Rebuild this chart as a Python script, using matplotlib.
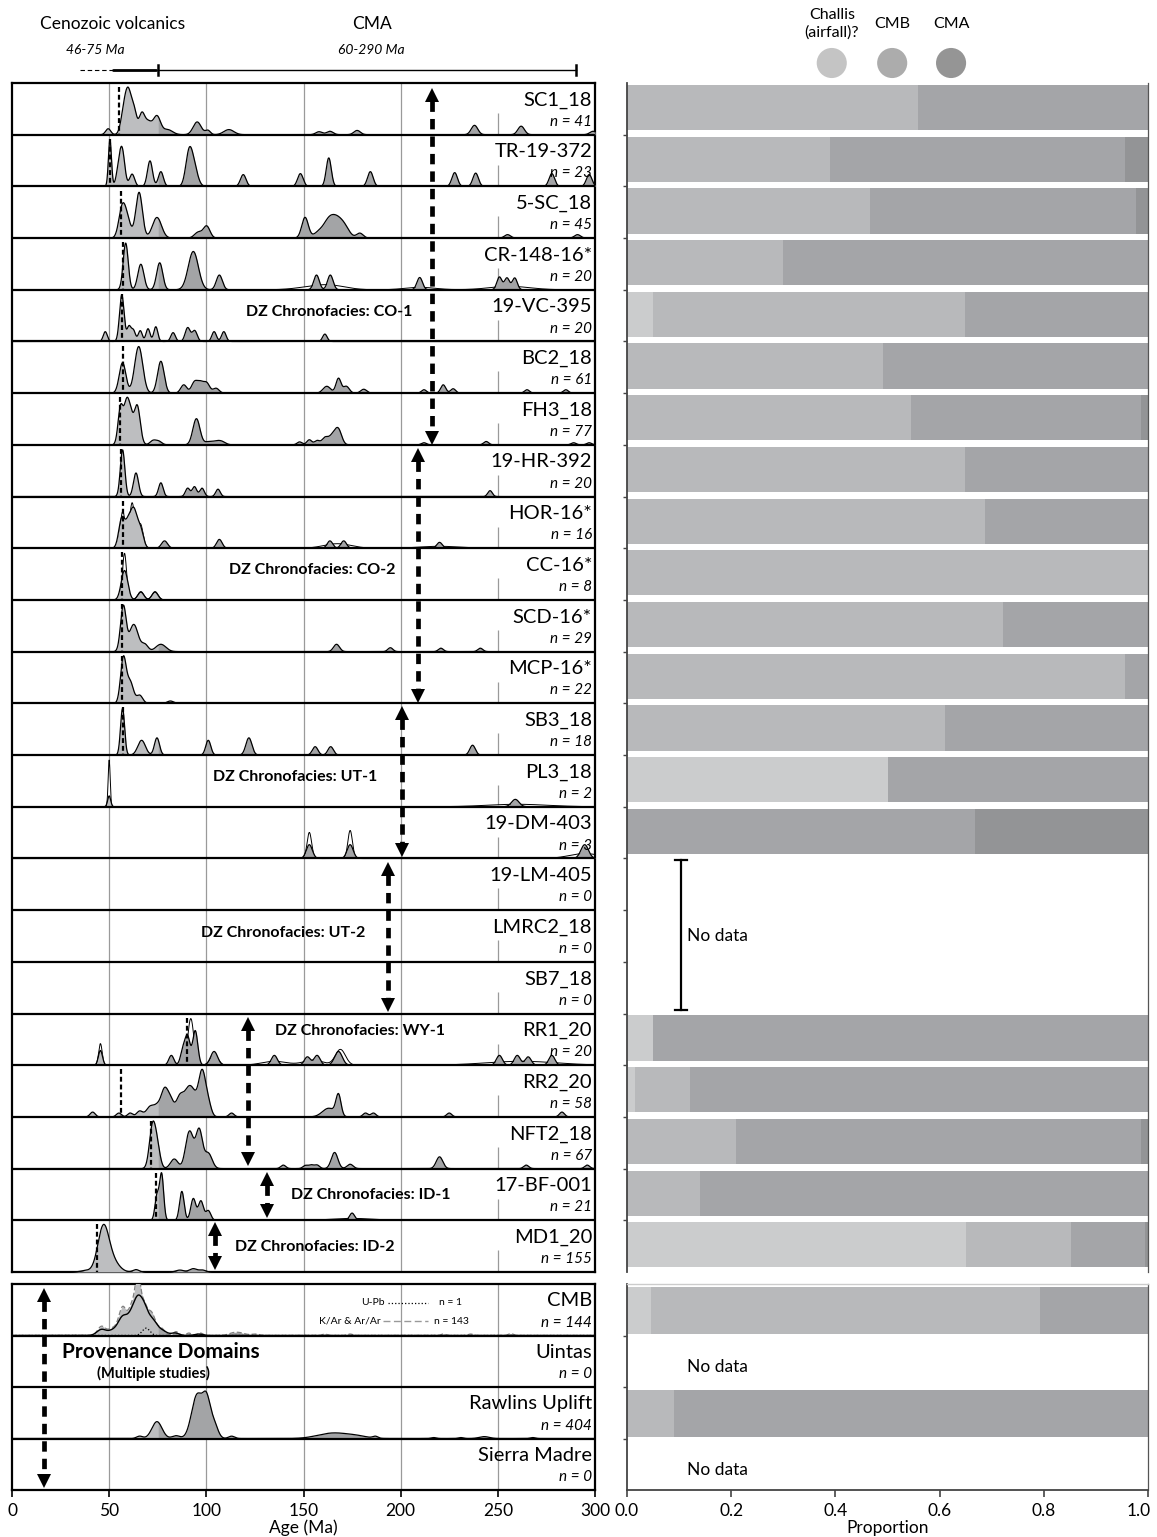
import numpy as np
import matplotlib
matplotlib.use("Agg")
import matplotlib.pyplot as plt
import matplotlib.transforms as mtransforms

plt.rcParams['font.family'] = ['Lato', 'DejaVu Sans']

# ---------------- data ----------------
sample_names = ["SC1_18", "TR-19-372", "5-SC_18", "CR-148-16*", "19-VC-395", "BC2_18",
                "FH3_18", "19-HR-392", "HOR-16*", "CC-16*", "SCD-16*", "MCP-16*", "SB3_18",
                "PL3_18", "19-DM-403", "19-LM-405", "LMRC2_18", "SB7_18", "RR1_20",
                "RR2_20", "NFT2_18", "17-BF-001", "MD1_20"]
sample_n = [41, 23, 45, 20, 20, 61, 77, 20, 16, 8, 29, 22, 18, 2, 3, 0, 0, 0, 20, 58, 67, 21, 155]

# density peaks: age (Ma), relative height, width (Ma)
peak_ages = [
    [49.5, 57.5, 60, 63, 66.7, 70, 74.6, 80, 95.3, 100.8, 111.6, 158, 163.6, 177.6, 238, 262, 299],
    [50.4, 55, 56.8, 61.8, 71, 76.6, 91, 93.5, 119, 148.4, 163, 184.4, 227.8, 238.6, 277.8, 297],
    [56.5, 59, 65.4, 74.6, 95.9, 100.2, 150.8, 158, 163, 167, 171, 179, 255, 291],
    [58.5, 66.3, 76, 93.3, 106.7, 156.7, 163.8, 209.8, 250.8, 254.7, 258.7],
    [48, 56.5, 60.2, 62.5, 66, 70, 74, 82.9, 90.4, 94, 104, 109, 161],
    [56.9, 65.2, 76.6, 88.4, 93.9, 97, 100.2, 105, 162, 168, 172, 181, 212, 221.9, 227, 265, 285],
    [55.9, 58.9, 61, 64.4, 72.6, 75.6, 94.9, 101, 105, 108, 148, 153, 157, 161, 165, 168, 212, 244, 289, 297],
    [56.9, 63.8, 76.6, 90.4, 93.9, 97.8, 106, 246],
    [56.5, 60, 62.8, 66, 78.5, 106.7, 163.6, 170.7, 220],
    [57.9, 66.3, 73.6],
    [57.3, 61.8, 64, 68.3, 76.6, 167, 194.7, 220.7, 241],
    [57.3, 60.8, 65.7, 81.5],
    [56.9, 66.7, 74.6, 101, 121.9, 156, 164, 237],
    [50, 259],
    [153, 174, 294.7],
    [], [], [],
    [45.5, 82, 88, 90.4, 94.3, 104, 135, 152, 157, 168, 250.8, 260, 265.6, 277.8],
    [41.5, 55, 60.8, 65.7, 71, 75, 78.5, 81.5, 86.4, 90.4, 93.3, 97.8, 101, 113, 163, 168, 181.9, 186, 225, 283],
    [72.2, 74.6, 83.5, 90.4, 92.3, 96.3, 101, 139.6, 151, 154, 157, 166, 174, 220, 264.6, 296],
    [74.6, 77, 87.4, 93.3, 97.2, 101, 175],
    [38, 47, 52, 63.8, 86.4, 93.3, 98],
]
peak_heights = [
    [0.14, 0.45, 0.95, 0.45, 0.45, 0.3, 0.42, 0.12, 0.3, 0.1, 0.12, 0.07, 0.08, 0.1, 0.22, 0.2, 0.08],
    [0.95, 0.35, 0.65, 0.25, 0.52, 0.3, 0.6, 0.4, 0.24, 0.26, 0.58, 0.3, 0.28, 0.27, 0.26, 0.24],
    [0.5, 0.4, 0.93, 0.42, 0.12, 0.24, 0.42, 0.12, 0.32, 0.3, 0.22, 0.1, 0.07, 0.07],
    [0.95, 0.52, 0.55, 0.78, 0.3, 0.3, 0.3, 0.25, 0.26, 0.24, 0.24],
    [0.2, 0.95, 0.3, 0.22, 0.22, 0.26, 0.3, 0.18, 0.28, 0.22, 0.2, 0.2, 0.15],
    [0.62, 0.95, 0.65, 0.17, 0.22, 0.2, 0.2, 0.1, 0.14, 0.3, 0.14, 0.08, 0.07, 0.17, 0.09, 0.07, 0.07],
    [0.9, 0.88, 0.6, 0.93, 0.1, 0.08, 0.62, 0.07, 0.07, 0.07, 0.07, 0.12, 0.1, 0.16, 0.22, 0.33, 0.05, 0.08, 0.05, 0.05],
    [0.95, 0.48, 0.28, 0.17, 0.2, 0.17, 0.15, 0.12],
    [0.6, 0.5, 0.68, 0.4, 0.15, 0.18, 0.15, 0.15, 0.12],
    [0.6, 0.16, 0.16],
    [0.93, 0.38, 0.28, 0.15, 0.15, 0.15, 0.08, 0.07, 0.07],
    [0.95, 0.45, 0.17, 0.05],
    [0.95, 0.3, 0.35, 0.3, 0.35, 0.17, 0.17, 0.2],
    [0.22, 0.15],
    [0.28, 0.28, 0.28],
    [], [], [],
    [0.3, 0.2, 0.3, 0.55, 0.7, 0.28, 0.2, 0.17, 0.2, 0.28, 0.2, 0.2, 0.17, 0.2],
    [0.1, 0.08, 0.08, 0.12, 0.2, 0.22, 0.5, 0.33, 0.42, 0.44, 0.4, 0.93, 0.25, 0.08, 0.18, 0.43, 0.08, 0.08, 0.08, 0.1],
    [0.9, 0.5, 0.22, 0.5, 0.5, 0.88, 0.35, 0.08, 0.07, 0.08, 0.08, 0.37, 0.1, 0.27, 0.08, 0.08],
    [0.5, 0.95, 0.6, 0.45, 0.4, 0.2, 0.15],
    [0.03, 0.93, 0.2, 0.05, 0.04, 0.07, 0.04],
]
peak_widths = [
    [1.0, 1.2, 1.3, 1.0, 1.1, 1.5, 1.4, 2.0, 1.6, 1.0, 2.0, 1.3, 1.3, 1.3, 1.3, 1.3, 1.3],
    [0.6, 1.0, 1.0, 1.0, 1.0, 1.0, 1.3, 1.5, 1.1, 1.1, 1.0, 1.1, 1.1, 1.1, 1.1, 1.1],
    [1.3, 1.5, 1.3, 1.8, 1.5, 1.3, 1.3, 2.0, 2.0, 2.0, 2.0, 1.3, 1.2, 1.2],
    [1.0, 1.2, 1.2, 2.0, 1.2, 1.1, 1.1, 1.1, 1.0, 1.0, 1.0],
    [0.8, 0.9, 0.8, 0.8, 0.8, 0.8, 0.8, 0.9, 1.0, 1.0, 0.9, 0.9, 0.9],
    [1.3, 1.6, 1.3, 1.2, 1.2, 1.2, 1.2, 1.2, 1.5, 1.0, 1.2, 1.2, 1.0, 1.0, 1.0, 1.0, 1.0],
    [1.0, 1.0, 1.0, 1.2, 1.2, 1.2, 1.4, 1.5, 1.5, 1.5, 1.0, 1.0, 1.0, 1.2, 1.5, 1.3, 1.0, 1.0, 1.0, 1.0],
    [0.9, 1.0, 0.9, 0.9, 0.9, 0.9, 0.9, 0.9],
    [1.2, 1.2, 1.2, 1.2, 1.2, 1.1, 1.1, 1.1, 1.1],
    [1.3, 1.2, 1.2],
    [1.1, 1.4, 1.4, 1.3, 2.0, 1.2, 1.0, 1.0, 1.0],
    [1.1, 1.3, 1.2, 1.2],
    [0.8, 1.5, 1.0, 1.0, 1.2, 1.1, 1.1, 1.1],
    [0.6, 1.5],
    [1.2, 1.2, 1.5],
    [], [], [],
    [0.8, 1.0, 1.0, 1.0, 1.0, 1.4, 1.2, 1.2, 1.2, 1.5, 1.2, 1.2, 1.2, 1.2],
    [1.0, 1.0, 1.0, 1.2, 1.5, 1.5, 1.3, 1.3, 1.5, 1.5, 1.5, 1.4, 1.2, 1.0, 2.5, 1.0, 1.0, 1.0, 1.0, 1.0],
    [1.2, 1.2, 1.5, 1.3, 1.3, 1.3, 1.5, 1.0, 1.0, 1.0, 1.0, 1.3, 1.2, 1.3, 1.0, 1.0],
    [0.8, 0.8, 0.9, 1.0, 1.0, 1.0, 1.0],
    [2.0, 2.2, 2.5, 1.2, 1.5, 1.5, 1.2],
]
# second (outline) curves where they differ visibly from the filled one
outline_ages = [[], [], [], [156, 165, 210, 256], [], [], [], [],
                [57, 61.8, 66, 165, 170, 220], [57.9, 66.3, 73.6], [], [], [],
                [50, 260], [153, 174, 294.7], [], [], [],
                [45.5, 92, 104, 135, 155, 169, 262], [], [], [175], []]
outline_heights = [[], [], [], [0.06, 0.06, 0.05, 0.07], [], [], [], [],
                   [0.75, 0.92, 0.5, 0.05, 0.05, 0.04], [0.95, 0.17, 0.17], [], [], [],
                   [0.95, 0.05], [0.53, 0.57, 0.1], [], [], [],
                   [0.44, 0.95, 0.2, 0.08, 0.1, 0.32, 0.08], [], [], [0.04], []]
outline_widths = [[], [], [], [7, 6, 6, 8], [], [], [], [],
                  [1.0, 1.0, 1.1, 5, 5, 8], [0.8, 1.2, 1.2], [], [], [],
                  [0.4, 12], [0.9, 0.9, 6], [], [], [],
                  [0.7, 1.2, 1.6, 5, 4, 2.0, 14], [], [], [8], []]
# youngest-population (dashed) markers, Ma
mda_ages = [55.3, 50.4, 56.1, 57.3, 56.5, 56.9, 55.5, 56.1, 56.9, 56.5, 56.5, 56.5, 56.9,
            None, None, None, None, None, 90.0, 56.0, 71.3, 74.2, 43.7]

# chronofacies: label, arrow age, arrow top/bottom (row units), label age, label row, ha
facies_labels = ["DZ Chronofacies: CO-1", "DZ Chronofacies: CO-2", "DZ Chronofacies: UT-1",
                 "DZ Chronofacies: UT-2", "DZ Chronofacies: WY-1", "DZ Chronofacies: ID-1",
                 "DZ Chronofacies: ID-2"]
facies_arrow_age = [216, 209, 200.7, 193.5, 121.5, 131, 104.5]
facies_arrow_top = [0.1, 7.06, 12.05, 15.07, 18.07, 21.06, 22.03]
facies_arrow_bot = [7.0, 12.0, 14.97, 17.97, 20.95, 21.95, 22.96]
facies_text_age = [163, 154.4, 145.6, 139.5, 135.4, 143.6, 114.8]
facies_text_row = [4.43, 9.42, 13.42, 16.44, 18.34, 21.51, 22.51]
facies_text_ha = ["center", "center", "center", "center", "left", "left", "left"]

# provenance domains
prov_names = ["CMB", "Uintas", "Rawlins Uplift", "Sierra Madre"]
prov_n = [144, 0, 404, 0]
cmb_ages = [46, 52, 57, 62, 64.8, 67.7, 71.7, 76.6, 84.4, 91, 97, 114, 118, 125, 161, 174, 222, 236, 256.7]
cmb_heights = [0.18, 0.15, 0.55, 0.62, 0.95, 0.6, 0.45, 0.15, 0.08, 0.05, 0.05, 0.05, 0.04, 0.03, 0.03, 0.03, 0.03, 0.03, 0.04]
cmb_widths = [1.5, 2, 1.5, 1.5, 1.0, 1.3, 1.5, 1.5, 1.0, 1.0, 1.0, 2, 2, 1.5, 1, 1, 1, 1, 1]
cmb_kar_ages = [46, 52, 57, 62, 65, 68, 72, 77, 84, 96]
cmb_kar_heights = [0.12, 0.1, 0.35, 0.42, 0.5, 0.45, 0.3, 0.1, 0.05, 0.03]
cmb_kar_widths = [1.8, 2, 1.8, 1.8, 1.5, 1.5, 1.8, 2, 1.5, 1.5]
cmb_upb_ages = [69]
cmb_upb_heights = [0.15]
cmb_upb_widths = [1.5]
rawlins_ages = [65.7, 74.6, 84.4, 95.3, 100.2, 104, 113, 160, 165, 170, 178, 187, 217, 231, 243, 268]
rawlins_heights = [0.05, 0.36, 0.06, 0.93, 0.72, 0.3, 0.05, 0.04, 0.05, 0.05, 0.04, 0.04, 0.02, 0.02, 0.04, 0.02]
rawlins_widths = [1.2, 2.0, 1.5, 2.2, 1.5, 1.5, 1.2, 5, 5, 5, 4, 1, 1, 1, 2, 1]

# source proportions (Challis, CMB, CMA, other)
prop_challis = [0, 0, 0, 0, 0.05, 0, 0, 0, 0, 0, 0, 0, 0, 0.5, 0, 0, 0, 0, 0.049, 0.016, 0, 0, 0.651]
prop_cmb = [0.559, 0.39, 0.466, 0.30, 0.599, 0.491, 0.545, 0.649, 0.687, 1.0, 0.722, 0.956, 0.611,
            0, 0, 0, 0, 0, 0, 0.104, 0.209, 0.141, 0.201]
prop_cma = [0.441, 0.566, 0.511, 0.70, 0.351, 0.509, 0.442, 0.351, 0.313, 0, 0.278, 0.044, 0.389,
            0.5, 0.667, 0, 0, 0, 0.951, 0.88, 0.777, 0.859, 0.142]
prop_other = [0, 0.044, 0.023, 0, 0, 0, 0.013, 0, 0, 0, 0, 0, 0, 0, 0.333, 0, 0, 0, 0, 0, 0.014, 0, 0.006]
prov_challis = [0.047, 0, 0, 0]
prov_cmb = [0.745, 0, 0.09, 0]
prov_cma = [0.208, 0, 0.91, 0]
prov_other = [0, 0, 0, 0]

legend_labels = ["Challis\n(airfall)?", "CMB", "CMA"]

# ---------------- styling ----------------
LIGHT = '#bdbec0'
DARK = '#a3a4a6'
C_CHALLIS, C_CMB, C_CMA, C_OTHER = '#cbcccd', '#b8b9bb', '#a4a5a8', '#939496'
GRID = '#9a9a9a'
BW = 1.3  # kernel width factor for display

W, H = 1157, 1537
fig = plt.figure(figsize=(W / 100, H / 100), dpi=100)


def add_ax(l, t, r, b):
    return fig.add_axes([l / W, 1 - b / H, (r - l) / W, (b - t) / H])


xs = np.linspace(0, 300, 3001)


def density(ages, heights, widths):
    y = np.zeros_like(xs)
    for a, h, w in zip(ages, heights, widths):
        y += h * np.exp(-0.5 * ((xs - a) / (w * BW)) ** 2)
    return y


def draw_curve(ax, i, ages, hts, wds, o_ages=(), o_hts=(), o_wds=()):
    if len(ages) == 0:
        return
    f = density(ages, hts, wds)
    o = density(o_ages, o_hts, o_wds) if len(o_ages) else None
    m = max(f.max(), o.max() if o is not None else 0)
    s = 0.95 * min(1.0, 0.97 / m)
    base = i + 1
    if o is not None:
        ax.fill_between(xs, base, base - o * s, color='white', lw=0, zorder=2)
        ax.plot(xs, base - o * s, color='black', lw=0.7, zorder=2.2)
    ax.fill_between(xs, base, base - f * s, where=xs <= 75.05, color=LIGHT, lw=0, zorder=3)
    ax.fill_between(xs, base, base - f * s, where=xs >= 74.95, color=DARK, lw=0, zorder=3)
    ax.plot(xs, base - f * s, color='black', lw=0.9, zorder=4)


def darrow(ax, xv, y0, y1, rowpx):
    hs = 13.0 / rowpx
    ax.plot([xv, xv], [y0 + hs, y1 - hs], color='black', lw=3.4, dashes=(2.2, 1.5),
            zorder=8, solid_capstyle='butt')
    ax.plot([xv], [y0 + hs * 0.55], marker='^', ms=10, color='black', zorder=8, mew=0)
    ax.plot([xv], [y1 - hs * 0.55], marker='v', ms=10, color='black', zorder=8, mew=0)


# ---------------- left: samples ----------------
nrow = len(sample_names)
axL = add_ax(12, 83, 595, 1272)
axL.set_xlim(0, 300)
axL.set_ylim(nrow, 0)
axL.set_xticks([])
axL.set_yticks([])
for sp in axL.spines.values():
    sp.set_linewidth(1.6)
for g in [50, 100, 150, 200]:
    axL.axvline(g, color=GRID, lw=0.9, zorder=1)
for i in range(nrow):
    axL.vlines(250, i + 0.58, i + 1, color=GRID, lw=0.9, zorder=1)
    if i > 0:
        axL.axhline(i, color='black', lw=1.6, zorder=9)
    draw_curve(axL, i, peak_ages[i], peak_heights[i], peak_widths[i],
               outline_ages[i], outline_heights[i], outline_widths[i])
    if mda_ages[i] is not None:
        axL.vlines(mda_ages[i], i + 0.08, i + 1, colors='black', lw=1.6,
                   linestyles=(0, (2.2, 1.3)), zorder=6)
    axL.text(298.5, i + 0.33, sample_names[i], ha='right', va='center', fontsize=14.5, zorder=10)
    axL.text(298.5, i + 0.75, "n = %d" % sample_n[i], ha='right', va='center', fontsize=11,
             style='italic', zorder=10)

rowpx = (1272 - 83) / nrow
for k in range(len(facies_labels)):
    darrow(axL, facies_arrow_age[k], facies_arrow_top[k], facies_arrow_bot[k], rowpx)
    axL.text(facies_text_age[k], facies_text_row[k], facies_labels[k], ha=facies_text_ha[k],
             va='center', fontsize=11.5, fontweight='bold', zorder=10)

# ---------------- left: provenance ----------------
nprov = len(prov_names)
axP = add_ax(12, 1284, 595, 1490)
axP.set_xlim(0, 300)
axP.set_ylim(nprov, 0)
axP.set_yticks([])
for sp in axP.spines.values():
    sp.set_linewidth(1.6)
for g in [50, 100, 150, 200, 250]:
    axP.axvline(g, color=GRID, lw=0.9, zorder=1)
for i in range(1, nprov):
    axP.axhline(i, color='black', lw=1.6, zorder=9)
for i in range(nprov):
    axP.text(298.5, i + 0.33, prov_names[i], ha='right', va='center', fontsize=14.5, zorder=10)
    axP.text(298.5, i + 0.75, "n = %d" % prov_n[i], ha='right', va='center', fontsize=11,
             style='italic', zorder=10)

# CMB row
f = density(cmb_ages, cmb_heights, cmb_widths)
s = 0.95
axP.fill_between(xs, 1, 1 - f * s, where=xs <= 75.05, color=LIGHT, lw=0, zorder=3)
axP.fill_between(xs, 1, 1 - f * s, where=xs >= 74.95, color=DARK, lw=0, zorder=3)
axP.plot(xs, 1 - f * s, color='#808080', lw=0.9, dashes=(4, 2), zorder=4)
k_ = density(cmb_kar_ages, cmb_kar_heights, cmb_kar_widths)
axP.plot(xs, 1 - k_ * s, color='black', lw=1.0, zorder=5)
u_ = density(cmb_upb_ages, cmb_upb_heights, cmb_upb_widths)
axP.plot(xs, 1 - u_ * s, color='black', lw=0.9, ls=':', zorder=5)
axP.text(192, 0.36, "U-Pb", ha='right', va='center', fontsize=7.5, zorder=10)
axP.plot([193.5, 214], [0.36, 0.36], color='black', lw=0.9, ls=':', zorder=10)
axP.text(219.5, 0.36, "n = 1", ha='left', va='center', fontsize=7.5, zorder=10)
axP.text(189.5, 0.72, "K/Ar & Ar/Ar", ha='right', va='center', fontsize=7.5, zorder=10)
axP.plot([191, 214], [0.72, 0.72], color='#999999', lw=1.0, dashes=(5, 2.5), zorder=10)
axP.text(217, 0.72, "n = 143", ha='left', va='center', fontsize=7.5, zorder=10)

# Rawlins row
draw_curve(axP, 2, rawlins_ages, rawlins_heights, rawlins_widths)

darrow(axP, 16.5, 0.08, 3.96, (1490 - 1284) / nprov)
axP.text(76.7, 1.32, "Provenance Domains", ha='center', va='center', fontsize=15,
         fontweight='bold', zorder=10)
axP.text(73, 1.73, "(Multiple studies)", ha='center', va='center', fontsize=10.5,
         fontweight='bold', zorder=10)

axP.set_xticks([0, 50, 100, 150, 200, 250, 300])
axP.tick_params(axis='x', direction='out', length=5, width=1.2, labelsize=12.5, pad=4)
axP.set_xlabel("Age (Ma)", fontsize=12.5, labelpad=1)

# ---------------- header left ----------------
axH = add_ax(12, 0, 595, 83)
axH.set_xlim(0, 300)
axH.set_ylim(83, 0)
axH.axis('off')
axH.text(51.5, 24, "Cenozoic volcanics", ha='center', va='center', fontsize=12.5)
axH.text(43, 50, "46-75 Ma", ha='center', va='center', fontsize=10, style='italic')
axH.text(185, 24, "CMA", ha='center', va='center', fontsize=12.5)
axH.text(185, 50, "60-290 Ma", ha='center', va='center', fontsize=10, style='italic')
axH.plot([35, 52], [70, 70], color='black', lw=0.8, dashes=(4, 2.5))
axH.plot([52, 74], [70, 70], color='black', lw=2.0, solid_capstyle='round')
axH.plot([75, 290], [70, 70], color='black', lw=1.0)
axH.plot([75, 75], [65, 75], color='black', lw=1.8)
axH.plot([290, 290], [65, 75], color='black', lw=1.8)

# ---------------- right: proportions ----------------
def bars(ax, i, vals, cols, yc, hgt):
    left = 0.0
    for v, c in zip(vals, cols):
        if v > 0:
            ax.barh(yc, v, left=left, height=hgt, color=c, lw=0, zorder=2)
            left += v


cols = [C_CHALLIS, C_CMB, C_CMA, C_OTHER]
axR = add_ax(627, 83, 1148, 1272)
axR.set_xlim(0, 1)
axR.set_ylim(nrow, 0)
axR.set_xticks([])
axR.set_yticks(list(range(1, nrow)))
axR.set_yticklabels([])
axR.tick_params(axis='y', direction='out', length=3, width=1, color='#444444')
for sp in ['top', 'bottom']:
    axR.spines[sp].set_visible(False)
axR.spines['left'].set_color('#444444')
axR.spines['left'].set_linewidth(1.3)
axR.spines['right'].set_color('#555555')
axR.spines['right'].set_linewidth(0.9)
for i in range(nrow):
    bars(axR, i, [prop_challis[i], prop_cmb[i], prop_cma[i], prop_other[i]], cols, i + 0.475, 0.875)
axR.plot([0.104, 0.104], [15.03, 17.93], color='black', lw=1.6)
axR.plot([0.092, 0.116], [15.03, 15.03], color='black', lw=1.6)
axR.plot([0.092, 0.116], [17.93, 17.93], color='black', lw=1.6)
axR.text(0.115, 16.5, "No data", ha='left', va='center', fontsize=12.5)

axRP = add_ax(627, 1284, 1148, 1490)
axRP.set_xlim(0, 1)
axRP.set_ylim(nprov, 0)
axRP.set_yticks([1, 2, 3])
axRP.set_yticklabels([])
axRP.tick_params(axis='y', direction='out', length=3, width=1, color='#444444')
axRP.spines['top'].set_color('#cccccc')
axRP.spines['top'].set_linewidth(1.0)
axRP.spines['left'].set_color('#444444')
axRP.spines['left'].set_linewidth(1.3)
axRP.spines['bottom'].set_color('#444444')
axRP.spines['bottom'].set_linewidth(1.3)
axRP.spines['right'].set_color('#555555')
axRP.spines['right'].set_linewidth(0.9)
for i in range(nprov):
    if prov_challis[i] + prov_cmb[i] + prov_cma[i] + prov_other[i] > 0:
        bars(axRP, i, [prov_challis[i], prov_cmb[i], prov_cma[i], prov_other[i]], cols, i + 0.52, 0.92)
    else:
        axRP.text(0.115, i + 0.62, "No data", ha='left', va='center', fontsize=12.5)
axRP.set_xticks([0, 0.2, 0.4, 0.6, 0.8, 1.0])
axRP.set_xticklabels(["0.0", "0.2", "0.4", "0.6", "0.8", "1.0"])
axRP.tick_params(axis='x', direction='out', length=5, width=1.2, labelsize=12.5, pad=4, color='#444444')
lastlab = axRP.get_xticklabels()[-1]
lastlab.set_transform(lastlab.get_transform() +
                      mtransforms.ScaledTranslation(-9 / 100, 0, fig.dpi_scale_trans))
axRP.set_xlabel("Proportion", fontsize=12.5, labelpad=1)

# ---------------- header right: legend ----------------
axHR = add_ax(627, 0, 1148, 83)
axHR.set_xlim(0, 1)
axHR.set_ylim(83, 0)
axHR.axis('off')
leg_x = [0.393, 0.509, 0.622]
leg_c = ['#c4c4c4', '#acacac', '#959595']
axHR.text(leg_x[0], 24, legend_labels[0], ha='center', va='center', fontsize=11.5, linespacing=1.35)
axHR.text(leg_x[1], 24, legend_labels[1], ha='center', va='center', fontsize=11.5)
axHR.text(leg_x[2], 24, legend_labels[2], ha='center', va='center', fontsize=11.5)
axHR.scatter(leg_x, [63, 63, 63], s=470, c=leg_c, linewidths=0, clip_on=False)

fig.savefig("out.png", dpi=100)
